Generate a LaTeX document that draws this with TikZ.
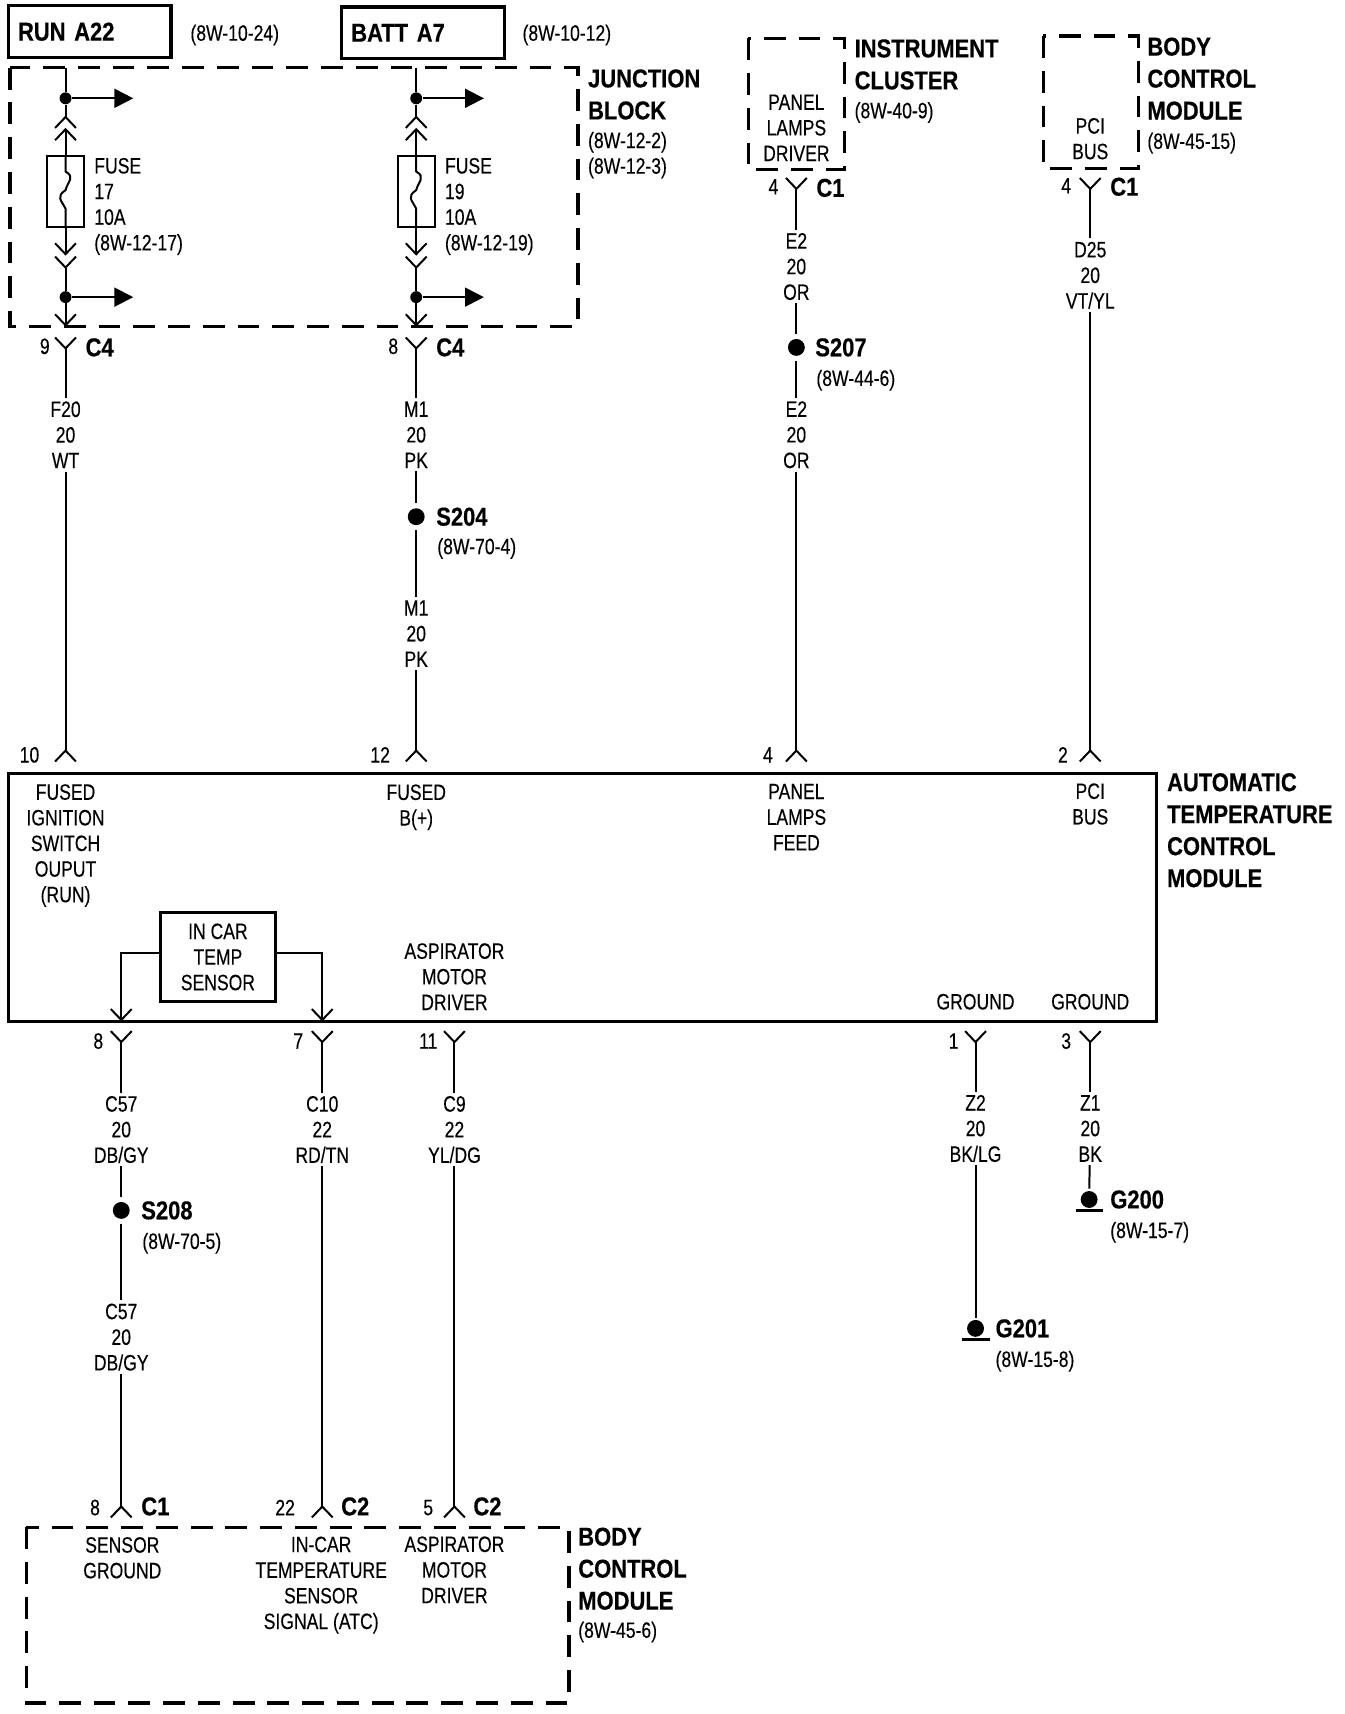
\documentclass[tikz,border=0pt]{standalone}
\usepackage{fontspec}
\setmainfont[FakeStretch=.79,FakeBold=.25,BoldFeatures={FakeStretch=.85,FakeBold=.4}]{Liberation Sans}
\usetikzlibrary{arrows.meta}
\tikzset{
    every node/.style={font=\fontsize{11.2}{12.9}\selectfont,inner sep=1.5pt},
    bigtxt/.style={font=\fontsize{13}{16.1}\selectfont\bfseries,align=left,anchor=west,inner sep=0pt},
    reftxt/.style={align=left,anchor=west,inner sep=0pt},
    midtxt/.style={align=center},
    solidbox/.style={draw,line width=1.6pt},
    srcbox/.style={solidbox,text width=72pt,align=left,minimum height=26pt,inner xsep=5pt,font=\fontsize{13}{16}\selectfont\bfseries},
    dashbox/.style={line width=1.7pt,dash pattern=on 11pt off 6.5pt},
    wire/.style={line width=1pt},
    pinY/.style={wire,-{Straight Barb[reversed,length=5.5pt,width=10.5pt,line width=1pt]}},
    pinV/.style={wire,-{Straight Barb[length=5.5pt,width=10.5pt,line width=1pt]}},
    feed/.style={wire,-{Triangle[length=9.5pt,width=9.5pt]}},
    joint/.style={circle,fill,inner sep=0pt,minimum size=6pt},
    splice/.style={circle,fill,inner sep=0pt,minimum size=8.5pt,outer sep=2.5pt},
    gnd/.style={circle,fill,inner sep=0pt,minimum size=8.5pt,outer sep=1.2pt},
    fuse/.style={draw,line width=1.1pt,minimum width=18.7pt,minimum height=35.7pt,inner sep=0pt},
}
\begin{document}
\begin{tikzpicture}[x=.55pt,y=-.55pt]
    \useasboundingbox (0,0) rectangle (1230.5,1569);
    % nguon
    \node[srcbox] (run) at (82,29) {RUN A22};
    \node[srcbox] (batt) at (387,30) {BATT A7};
    \node[reftxt] (runref) at (174,32) {(8W-10-24)};
    \node[reftxt] (battref) at (478,32) {(8W-10-12)};
    % hop dut
    \draw[dashbox] (9,62) rectangle (529,299);
    \node[bigtxt] (jbname) at (538,86.5) {JUNCTION\\BLOCK};
    \node[reftxt] (jbref) at (538,142) {(8W-12-2)\\(8W-12-3)};
    \draw[dashbox] (685,35) rectangle (773,155);
    \node[bigtxt] (icname) at (782,59) {INSTRUMENT\\CLUSTER};
    \node[reftxt] (icref) at (782,103) {(8W-40-9)};
    \node[midtxt] (icdrv) at (729,117) {PANEL\\LAMPS\\DRIVER};
    \draw[dashbox] (955,33) rectangle (1042,154);
    \node[bigtxt] (bcname) at (1050,72) {BODY\\CONTROL\\MODULE};
    \node[reftxt] (bcref) at (1050,131) {(8W-45-15)};
    \node[midtxt] (bcpci) at (998,127) {PCI\\BUS};
    \draw[dashbox] (24,1398) rectangle (521,1559);
    \node[bigtxt] (bbname) at (529,1436) {BODY\\CONTROL\\MODULE};
    \node[reftxt] (bbref) at (529,1494) {(8W-45-6)};
    % mo-dun chinh
    \draw[solidbox] (8,708) rectangle (1059,935);
    \node[bigtxt] (atname) at (1068,760) {AUTOMATIC\\TEMPERATURE\\CONTROL\\MODULE};
    \node[midtxt] (tA) at (60,774) {FUSED\\IGNITION\\SWITCH\\OUPUT\\(RUN)};
    \node[midtxt] (tB) at (381,739) {FUSED\\B(+)};
    \node[midtxt] (tC) at (729,748) {PANEL\\LAMPS\\FEED};
    \node[midtxt] (tD) at (998,736) {PCI\\BUS};
    \node[midtxt] (tE) at (416,894) {ASPIRATOR\\MOTOR\\DRIVER};
    \node (tF) at (893,917) {GROUND};
    \node (tG) at (998,917) {GROUND};
    \node[solidbox,midtxt,minimum width=57.7pt,minimum height=45pt] (sensor) at (199.5,876) {IN CAR\\TEMP\\SENSOR};
    \node[midtxt] (sA) at (112,1426) {SENSOR\\GROUND};
    \node[midtxt] (sB) at (294,1451) {IN-CAR\\TEMPERATURE\\SENSOR\\SIGNAL (ATC)};
    \node[midtxt] (sC) at (416,1437) {ASPIRATOR\\MOTOR\\DRIVER};
    % cau chi
    \node[fuse] (fA) at (60,175.5) {};
    \node[fuse] (fB) at (381,175.5) {};
    \node[reftxt] (fAt) at (86,189) {FUSE\\17\\10A\\(8W-12-17)};
    \node[reftxt] (fBt) at (407,189) {FUSE\\19\\10A\\(8W-12-19)};
    \foreach \f/\x in {fA/60,fB/381}{
        \node[joint] (\f u) at (\x,90) {};
        \node[joint] (\f d) at (\x,272) {};
        \coordinate (\f t) at (\x,62);
        \coordinate (\f a) at (\x,118);
        \coordinate (\f b) at (\x,117);
        \coordinate (\f c) at (\x,234);
        \coordinate (\f e) at (\x,299);
        \coordinate (\f r) at (\x+62,90);
        \coordinate (\f s) at (\x+62,272);
        \draw[wire] (\f t)--(\f u);
        \draw[pinY] (\f u)--(\f a);
        \draw[pinV] (\f)--(\f b);
        \draw[pinV] (\f)--(\f c);
        \draw[pinY] (\f d)--(\f c);
        \draw[pinV] (\f d)--(\f e);
        \draw[feed] (\f u)--(\f r);
        \draw[feed] (\f d)--(\f s);
        \draw[wire] (\f.north) -- ++(0,15) .. controls +(9,5) and +(2,-8) .. ++(0,17)
            .. controls +(-9,6) and +(-4,-8) .. ++(0,17) -- (\f.south);
    }
    % day tren
    \path
    (60,308) coordinate (pA) ++(-19,9) node (nA) {9} ++(37,1) node[bigtxt,anchor=west] (cA) {C4}
    (381,308) coordinate (pB) ++(-21,9) node (nB) {8} ++(39,1) node[bigtxt,anchor=west] (cB) {C4}
    (729,162) coordinate (pC) ++(-21,9) node (nC) {4} ++(39,1) node[bigtxt,anchor=west] (cC) {C1}
    (998,162) coordinate (pD) ++(-22,8) node (nD) {4} ++(40,1) node[bigtxt,anchor=west] (cD) {C1};
    \path
    (60,398) node[midtxt] (wA) {F20\\20\\WT}
    (381,398) node[midtxt] (wB) {M1\\20\\PK}
    (381,580) node[midtxt] (wB2) {M1\\20\\PK}
    (729,244) node[midtxt] (wC) {E2\\20\\OR}
    (729,398) node[midtxt] (wC2) {E2\\20\\OR}
    (998,252) node[midtxt] (wD) {D25\\20\\VT/YL};
    \node[splice] (s204) at (381,473) {};
    \node[bigtxt] (s204t) at (399,473) {S204};
    \node[reftxt] (s204r) at (400,502) {(8W-70-4)};
    \node[splice] (s207) at (729,318) {};
    \node[bigtxt] (s207t) at (746,318) {S207};
    \node[reftxt] (s207r) at (747,348) {(8W-44-6)};
    \path
    (60,698) coordinate (qA) ++(-33,-7) node (mA) {10}
    (381,698) coordinate (qB) ++(-33,-7) node (mB) {12}
    (729,698) coordinate (qC) ++(-26,-7) node (mC) {4}
    (998,698) coordinate (qD) ++(-25,-7) node (mD) {2};
    \draw[pinY] (wA)--(pA);
    \draw[pinY] (wA)--(qA);
    \draw[pinY] (wB)--(pB);
    \draw[wire] (wB)--(s204);
    \draw[wire] (s204)--(wB2);
    \draw[pinY] (wB2)--(qB);
    \draw[pinY] (wC)--(pC);
    \draw[wire] (wC)--(s207);
    \draw[wire] (s207)--(wC2);
    \draw[pinY] (wC2)--(qC);
    \draw[pinY] (wD)--(pD);
    \draw[pinY] (wD)--(qD);
    % day duoi
    \coordinate (vA) at (111,935);
    \coordinate (vB) at (295,935);
    \draw[pinV] (sensor.west) ++(0,-4) -| (vA);
    \draw[pinV] (sensor.east) ++(0,-4) -| (vB);
    \path
    (111,943) coordinate (pE) ++(-21,10) node (nE) {8}
    (295,943) coordinate (pF) ++(-22,10) node (nF) {7}
    (416,943) coordinate (pG) ++(-24,10) node (nG) {11}
    (893,943) coordinate (pH) ++(-20,10) node (nH) {1}
    (998,943) coordinate (pI) ++(-22,10) node (nI) {3};
    \path
    (111,1034) node[midtxt] (wE) {C57\\20\\DB/GY}
    (111,1224) node[midtxt] (wE2) {C57\\20\\DB/GY}
    (295,1034) node[midtxt] (wF) {C10\\22\\RD/TN}
    (416,1034) node[midtxt] (wG) {C9\\22\\YL/DG}
    (893,1033) node[midtxt] (wH) {Z2\\20\\BK/LG}
    (998,1033) node[midtxt] (wI) {Z1\\20\\BK};
    \node[splice] (s208) at (111,1108) {};
    \node[bigtxt] (s208t) at (129,1108) {S208};
    \node[reftxt] (s208r) at (130,1138) {(8W-70-5)};
    \node[gnd] (g201) at (893,1216) {};
    \node[bigtxt] (g201t) at (911,1216) {G201};
    \node[reftxt] (g201r) at (911,1246) {(8W-15-8)};
    \draw[line width=1.3pt] (g201.south) ++(-12,0)--++(25,0);
    \node[gnd] (g200) at (997,1098) {};
    \node[bigtxt] (g200t) at (1016,1098) {G200};
    \node[reftxt] (g200r) at (1016,1128) {(8W-15-7)};
    \draw[line width=1.3pt] (g200.south) ++(-12,0)--++(25,0);
    \path
    (111,1390) coordinate (qE) ++(-24,-10) node (mE) {8} ++(42,-1) node[bigtxt,anchor=west] (cE) {C1}
    (295,1390) coordinate (qF) ++(-34,-10) node (mF) {22} ++(51,-1) node[bigtxt,anchor=west] (cF) {C2}
    (416,1390) coordinate (qG) ++(-24,-10) node (mG) {5} ++(41,-1) node[bigtxt,anchor=west] (cG) {C2};
    \draw[pinY] (wE)--(pE);
    \draw[wire] (wE)--(s208);
    \draw[wire] (s208)--(wE2);
    \draw[pinY] (wE2)--(qE);
    \draw[pinY] (wF)--(pF);
    \draw[pinY] (wF)--(qF);
    \draw[pinY] (wG)--(pG);
    \draw[pinY] (wG)--(qG);
    \draw[pinY] (wH)--(pH);
    \draw[wire] (wH)--(g201);
    \draw[pinY] (wI)--(pI);
    \draw[wire] (wI)--(g200);
\end{tikzpicture}
\end{document}
